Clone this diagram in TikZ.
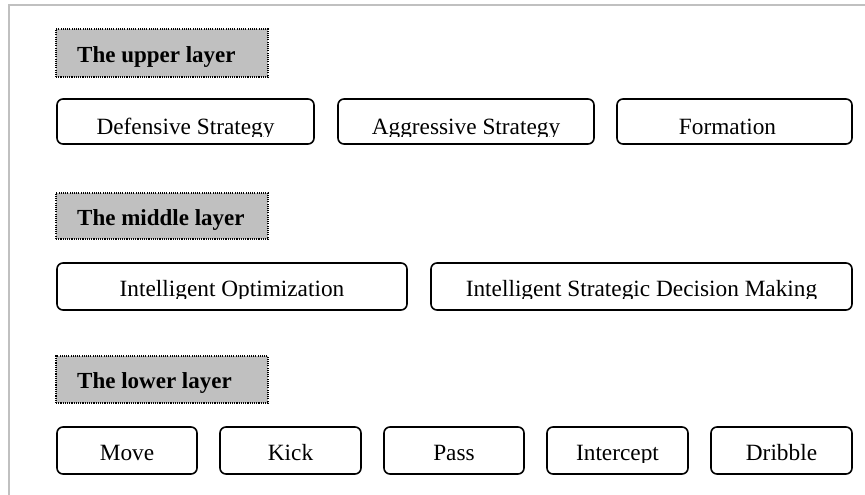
\documentclass[tikz,border=0pt]{standalone}
\usepackage{fontspec}
\setmainfont{Liberation Serif}
\usetikzlibrary{fit}

\definecolor{framegray}{HTML}{C0C0C0}
\definecolor{labelfill}{HTML}{C0C0C0}

\tikzset{
  rbox/.style={draw=black, line width=1.6pt, rounded corners=6pt, inner sep=0pt, fill=white},
  layerlabel/.style={draw=black, fill=labelfill, line width=1.5pt, dash pattern=on 1.1pt off 1.1pt, inner sep=0pt},
  boxtext/.style={inner sep=0pt, font=\fontsize{23.3}{27}\selectfont},
  labeltext/.style={inner sep=0pt, font=\fontsize{23}{27}\selectfont\bfseries},
  frameline/.style={draw=framegray, line width=2pt}
}

% rounded box: name, x1, y1, x2, y2, baseline, text (text clipped just below its baseline)
\newcommand{\textbox}[8][0]{%
  \path (#3,#4) coordinate (#2-nw) (#5,#6) coordinate (#2-se);
  \node[rbox, fit=(#2-nw)(#2-se)] (#2) {};
  \begin{scope}
    \clip (#3,#4) rectangle (#5,#7+2);
    \node[boxtext, anchor=base] (#2-t) at ({(#3+#5)/2+#1},#7) {#8};
  \end{scope}}

% grey layer heading: name, y1, y2, baseline, text
\newcommand{\layerhead}[5]{%
  \path (56,#2) coordinate (#1-nw) (268,#3) coordinate (#1-se);
  \node[layerlabel, fit=(#1-nw)(#1-se)] (#1) {};
  \node[labeltext, anchor=base west] (#1-t) at (77,#4) {#5};}

\begin{document}
\begin{tikzpicture}[x=1pt, y=-1pt]
  \useasboundingbox (0,0) rectangle (865,495);
  \fill[white] (0,0) rectangle (865,495);

  % outer frame
  \draw[frameline] (9,495) -- (9,5) -- (865,5);

  % upper layer
  \layerhead{upper}{29}{77}{63}{The upper layer}
  \textbox{def}{57}{99}{314}{144}{134}{Defensive Strategy}
  \textbox{agg}{338}{99}{594}{144}{134}{Aggressive Strategy}
  \textbox[-7]{form}{617}{99}{852}{144}{134}{Formation}

  % middle layer
  \layerhead{middle}{193}{239}{225}{The middle layer}
  \textbox{opt}{57}{263}{407}{310}{296}{Intelligent Optimization}
  \textbox{dec}{431}{263}{852}{310}{296}{Intelligent Strategic Decision Making}

  % lower layer
  \layerhead{lower}{356}{403}{388}{The lower layer}
  \textbox{move}{57}{427}{197}{474}{460}{Move}
  \textbox{kick}{220}{427}{361}{474}{460}{Kick}
  \textbox{pass}{384}{427}{524}{474}{460}{Pass}
  \textbox{inter}{547}{427}{688}{474}{460}{Intercept}
  \textbox{drib}{711}{427}{852}{474}{460}{Dribble}
\end{tikzpicture}
\end{document}
